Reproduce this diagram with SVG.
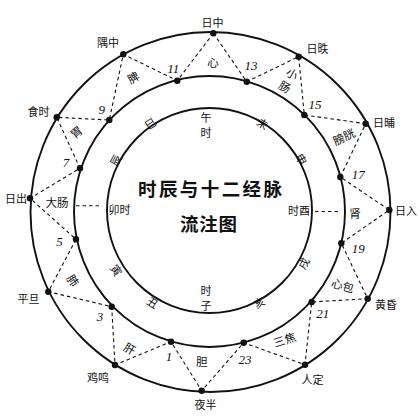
<svg xmlns="http://www.w3.org/2000/svg" width="420" height="420" viewBox="0 0 420 420">
<style>
.ring{fill:none;stroke:#111;stroke-width:1.9}
.dash{fill:none;stroke:#111;stroke-width:1.1;stroke-dasharray:3.5,3}
.dot{fill:#111}
.lb{font-family:"Noto Sans CJK SC","Noto Sans",sans-serif;font-size:11px;fill:#111;text-anchor:middle;dominant-baseline:central}
.mer{font-family:"Noto Sans CJK SC","Noto Sans",sans-serif;font-size:11.5px;fill:#111;text-anchor:middle;dominant-baseline:central}
.num{font-family:"Liberation Serif",serif;font-style:italic;font-size:13px;fill:#111;text-anchor:middle;dominant-baseline:central}
.ttl{font-family:"Noto Sans CJK SC",sans-serif;font-weight:bold;font-size:18.5px;fill:#111;dominant-baseline:central}
</style>
<rect width="420" height="420" fill="#fff"/>
<g id="rings">
<circle class="ring" cx="210.5" cy="212" r="180"/>
<circle class="ring" cx="209.5" cy="211.5" r="135.5"/>
<circle class="ring" cx="209.5" cy="210.5" r="102.5"/>
</g>
<g id="connectors">
<polyline class="dash" points="213.3,33.3 246.7,81.7 298.7,56.7 304.3,115 365.7,123.7 340.3,177 389.3,210 341.3,243.3 367.7,298.7 311.7,302 305,364.7 243.7,342.7 201.7,390.7 171,341.7 115,365 111.7,306.7 48.3,291.7 76,239.3 30,198.3 80,168.3 56.7,117.3 109.3,120 123.3,54.3 177.3,80.7 213.3,33.3"/>
<line class="dash" x1="76" y1="205.7" x2="101" y2="205.7"/>
<line class="dash" x1="315" y1="211.5" x2="339" y2="211.5"/>
</g>
<g id="outer-points">
<g id="o-rizhong"><circle class="dot" cx="213.3" cy="33.3" r="3.2"/><text class="lb" x="212.5" y="21.5">日中</text></g>
<g id="o-ridie"><circle class="dot" cx="298.7" cy="56.7" r="3.2"/><text class="lb" x="317.5" y="48">日昳</text></g>
<g id="o-ribu"><circle class="dot" cx="365.7" cy="123.7" r="3.2"/><text class="lb" x="384" y="122.3">日晡</text></g>
<g id="o-riru"><circle class="dot" cx="389.3" cy="210" r="3.2"/><text class="lb" x="406" y="210.3">日入</text></g>
<g id="o-huanghun"><circle class="dot" cx="367.7" cy="298.7" r="3.2"/><text class="lb" x="386" y="304">黄昏</text></g>
<g id="o-rending"><circle class="dot" cx="305" cy="364.7" r="3.2"/><text class="lb" x="312.5" y="378.5">人定</text></g>
<g id="o-yeban"><circle class="dot" cx="201.7" cy="390.7" r="3.2"/><text class="lb" x="205.5" y="404.3">夜半</text></g>
<g id="o-jiming"><circle class="dot" cx="115" cy="365" r="3.2"/><text class="lb" x="98" y="377">鸡鸣</text></g>
<g id="o-pingdan"><circle class="dot" cx="48.3" cy="291.7" r="3.2"/><text class="lb" x="28.5" y="298.3">平旦</text></g>
<g id="o-richu"><circle class="dot" cx="30" cy="198.3" r="3.2"/><text class="lb" x="16" y="197.7">日出</text></g>
<g id="o-shishi"><circle class="dot" cx="56.7" cy="117.3" r="3.2"/><text class="lb" x="38.5" y="110.7">食时</text></g>
<g id="o-yuzhong"><circle class="dot" cx="123.3" cy="54.3" r="3.2"/><text class="lb" x="108" y="42">隅中</text></g>
</g>
<g id="middle-points">
<g id="m13"><circle class="dot" cx="246.7" cy="81.7" r="3.2"/><text class="num" x="251" y="65">13</text></g>
<g id="m15"><circle class="dot" cx="304.3" cy="115" r="3.2"/><text class="num" x="315" y="104">15</text></g>
<g id="m17"><circle class="dot" cx="340.3" cy="177" r="3.2"/><text class="num" x="358.3" y="174">17</text></g>
<g id="m19"><circle class="dot" cx="341.3" cy="243.3" r="3.2"/><text class="num" x="358.3" y="248.3">19</text></g>
<g id="m21"><circle class="dot" cx="311.7" cy="302" r="3.2"/><text class="num" x="322.7" y="313.3">21</text></g>
<g id="m23"><circle class="dot" cx="243.7" cy="342.7" r="3.2"/><text class="num" x="245" y="359">23</text></g>
<g id="m1"><circle class="dot" cx="171" cy="341.7" r="3.2"/><text class="num" x="169" y="356.7">1</text></g>
<g id="m3"><circle class="dot" cx="111.7" cy="306.7" r="3.2"/><text class="num" x="100" y="316">3</text></g>
<g id="m5"><circle class="dot" cx="76" cy="239.3" r="3.2"/><text class="num" x="59.5" y="241.5">5</text></g>
<g id="m7"><circle class="dot" cx="80" cy="168.3" r="3.2"/><text class="num" x="66" y="162.7">7</text></g>
<g id="m9"><circle class="dot" cx="109.3" cy="120" r="3.2"/><text class="num" x="101.7" y="109.3">9</text></g>
<g id="m11"><circle class="dot" cx="177.3" cy="80.7" r="3.2"/><text class="num" x="173.3" y="68.3">11</text></g>
</g>
<g id="meridians">
<g id="mer-xin"><text class="mer" x="213" y="62">心</text></g>
<g id="mer-pi"><text class="mer" transform="translate(133,77) rotate(-30)">脾</text></g>
<g id="mer-xiaochang"><text class="mer" transform="translate(288.8,79.7) rotate(30)"><tspan x="0" y="-7.5">小</tspan><tspan x="0" y="7.5">肠</tspan></text></g>
<g id="mer-pangguang"><text class="mer" transform="translate(343.7,136.3) rotate(-25)">膀胱</text></g>
<g id="mer-shen"><text class="mer" x="355" y="213.3">肾</text></g>
<g id="mer-xinbao"><text class="mer" transform="translate(343,285) rotate(16)">心包</text></g>
<g id="mer-sanjiao"><text class="mer" transform="translate(284.5,339.3) rotate(-18)">三焦</text></g>
<g id="mer-dan"><text class="mer" x="201.7" y="361">胆</text></g>
<g id="mer-gan"><text class="mer" transform="translate(130,348.3) rotate(30)">肝</text></g>
<g id="mer-fei"><text class="mer" transform="translate(73.3,280) rotate(55)">肺</text></g>
<g id="mer-dachang"><text class="mer" x="57" y="201.7">大肠</text></g>
<g id="mer-wei"><text class="mer" transform="translate(76,131.7) rotate(-40)">胃</text></g>
</g>
<g id="hours">
<g id="h-wu"><text class="lb" x="206" y="117"><tspan x="206" y="117">午</tspan><tspan x="206" y="131.5">时</tspan></text></g>
<g id="h-wei"><text class="lb" transform="translate(263,123) rotate(31)">未</text></g>
<g id="h-shen"><text class="lb" transform="translate(302,159) rotate(61)">申</text></g>
<g id="h-you"><text class="lb" x="299" y="210">时酉</text></g>
<g id="h-xu"><text class="lb" transform="translate(303,263) rotate(-61)">戌</text></g>
<g id="h-hai"><text class="lb" transform="translate(259,302) rotate(-28)">亥</text></g>
<g id="h-zi"><text class="lb" x="206" y="290"><tspan x="206" y="290">时</tspan><tspan x="206" y="304.5">子</tspan></text></g>
<g id="h-chou"><text class="lb" transform="translate(153,302) rotate(32)">丑</text></g>
<g id="h-yin"><text class="lb" transform="translate(117,270) rotate(57)">寅</text></g>
<g id="h-mao"><text class="lb" x="119.5" y="209">卯时</text></g>
<g id="h-chen"><text class="lb" transform="translate(115,160) rotate(-62)">辰</text></g>
<g id="h-si"><text class="lb" transform="translate(150,123) rotate(-34)">巳</text></g>
</g>
<g id="title">
<text class="ttl" x="138" y="188" textLength="144" lengthAdjust="spacing">时辰与十二经脉</text>
<text class="ttl" x="180" y="223" textLength="57" lengthAdjust="spacing">流注图</text>
</g>
</svg>
